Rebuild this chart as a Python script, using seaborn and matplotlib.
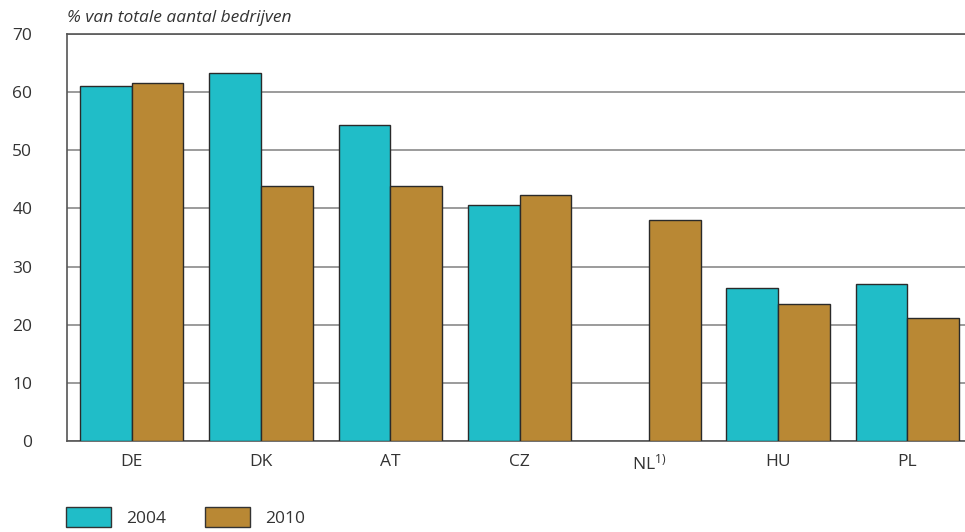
import pandas as pd
import numpy as np
import matplotlib
matplotlib.use('Agg')
import matplotlib.pyplot as plt
import matplotlib.patches as mpatches
import seaborn as sns

countries = ['DE', 'DK', 'AT', 'CZ', 'NL$^{\\mathregular{1)}}$', 'HU', 'PL']
years = ['2004', '2010']
share_2004 = [61.0, 63.3, 54.4, 40.6, np.nan, 26.3, 27.0]
share_2010 = [61.5, 43.9, 43.8, 42.3, 38.0, 23.5, 21.2]
colors = ['#20bdc8', '#b98834']

df = pd.DataFrame({
    'land': countries * 2,
    'jaar': [years[0]] * len(countries) + [years[1]] * len(countries),
    'waarde': share_2004 + share_2010,
})

sns.set_style('white')
plt.rcParams['font.family'] = ['Open Sans', 'DejaVu Sans']
plt.rcParams['mathtext.fontset'] = 'custom'
plt.rcParams['mathtext.rm'] = 'Open Sans'
plt.rcParams['mathtext.it'] = 'Open Sans:italic'

fs = 12.5
fig = plt.figure(figsize=(9.65, 5.32), dpi=100)
ax = fig.add_axes([0.0694, 0.171, 0.938, 0.765])

sns.barplot(data=df, x='land', y='waarde', hue='jaar', palette=colors,
            saturation=1, width=0.8, edgecolor='#2a2a2a', linewidth=1.0,
            ax=ax, legend=False, zorder=3)

ax.set_ylim(0, 70)
ax.set_xlim(-0.5, 6.5)
ax.set_yticks(range(0, 71, 10))
ax.yaxis.grid(True, color='#8a8a8a', linewidth=1.2, zorder=0)
ax.set_axisbelow(True)
ax.set_xlabel('')
ax.set_ylabel('')
for s in ['left', 'bottom', 'top']:
    ax.spines[s].set_color('#555555')
    ax.spines[s].set_linewidth(1.2)
ax.spines['right'].set_visible(False)
ax.tick_params(axis='both', length=0, labelsize=fs, labelcolor='#333333')
ax.tick_params(axis='y', pad=25)
ax.tick_params(axis='x', pad=9)

fig.text(0.0694, 0.966, '% van totale aantal bedrijven', style='italic',
         fontsize=fs, color='#333333', va='center', ha='left')

handles = [mpatches.Patch(facecolor=c, edgecolor='#333333', label=y)
           for c, y in zip(colors, years)]
fig.legend(handles=handles, loc='lower left', bbox_to_anchor=(0.052, -0.02),
           ncol=2, frameon=False, fontsize=fs, handlelength=2.6,
           handleheight=1.4, handletextpad=0.9, columnspacing=2.2,
           labelcolor='#333333')

fig.savefig('out.png', dpi=100)
